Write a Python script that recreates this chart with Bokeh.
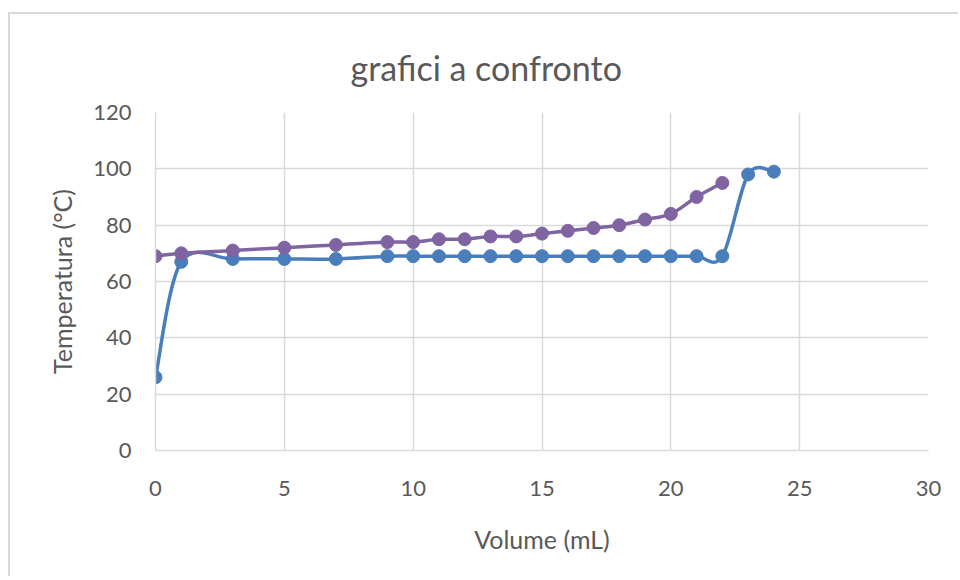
import numpy as np
from bokeh.plotting import figure
from bokeh.models import Range1d, FixedTicker
from bokeh.embed import file_html
from bokeh.resources import INLINE

# ---- data ----
blue_x = [0, 1, 3, 5, 7, 9, 10, 11, 12, 13, 14, 15, 16, 17, 18, 19, 20, 21, 22, 23, 24]
blue_y = [26, 67, 68, 68, 68, 69, 69, 69, 69, 69, 69, 69, 69, 69, 69, 69, 69, 69, 69, 98, 99]
purple_x = [0, 1, 3, 5, 7, 9, 10, 11, 12, 13, 14, 15, 16, 17, 18, 19, 20, 21, 22]
purple_y = [69, 70, 71, 72, 73, 74, 74, 75, 75, 76, 76, 77, 78, 79, 80, 82, 84, 90, 95]
x_ticks = [0, 5, 10, 15, 20, 25, 30]
y_ticks = [0, 20, 40, 60, 80, 100, 120]

BLUE = "#4a7ebb"
PURPLE = "#8064a2"
TXT = "#595959"
GRID = "#d9d9d9"
FONT = "Lato"


def smooth_segments(xs, ys):
    """Catmull-Rom style bezier control points (Excel-like smoothing)."""
    xs = np.asarray(xs, float)
    ys = np.asarray(ys, float)
    n = len(xs)
    px = np.concatenate([[xs[0]], xs, [xs[-1]]])
    py = np.concatenate([[ys[0]], ys, [ys[-1]]])
    d = dict(x0=[], y0=[], x1=[], y1=[], cx0=[], cy0=[], cx1=[], cy1=[])
    for i in range(n - 1):
        a, b, c, e = i, i + 1, i + 2, i + 3
        d["x0"].append(px[b]); d["y0"].append(py[b])
        d["x1"].append(px[c]); d["y1"].append(py[c])
        d["cx0"].append(px[b] + (px[c] - px[a]) / 6.0)
        d["cy0"].append(py[b] + (py[c] - py[a]) / 6.0)
        d["cx1"].append(px[c] - (px[e] - px[b]) / 6.0)
        d["cy1"].append(py[c] - (py[e] - py[b]) / 6.0)
    return d


p = figure(width=950, height=564, output_backend="svg", toolbar_location=None,
           x_range=Range1d(0, 30), y_range=Range1d(0, 120),
           min_border_left=145, min_border_right=32, min_border_top=98,
           min_border_bottom=128, title="grafici a confronto")
p.styles = {"border-top": "2px solid #d9d9d9", "border-left": "2px solid #d9d9d9",
            "margin-top": "12px", "margin-left": "8px"}

p.title.align = "left"
p.title.offset = 195
p.title.text_font = FONT
p.title.text_font_style = "normal"
p.title.text_font_size = "34px"
p.title.text_color = TXT
p.title.standoff = 50

p.outline_line_color = None
p.background_fill_color = "white"
p.border_fill_color = "white"

for ax in (p.xaxis[0], p.yaxis[0]):
    ax.axis_line_color = GRID
    ax.axis_line_width = 1.5
    ax.major_tick_line_color = None
    ax.minor_tick_line_color = None
    ax.major_tick_out = 0
    ax.major_label_text_font = FONT
    ax.major_label_text_font_size = "22px"
    ax.major_label_text_color = TXT
    ax.axis_label_text_font = FONT
    ax.axis_label_text_font_size = "25px"
    ax.axis_label_text_font_style = "normal"
    ax.axis_label_text_color = TXT

p.xaxis.ticker = FixedTicker(ticks=x_ticks)
p.yaxis.ticker = FixedTicker(ticks=y_ticks)
p.xaxis.axis_label = "Volume (mL)"
p.yaxis.axis_label = "Temperatura (°C)"
p.xaxis.major_label_standoff = 30
p.yaxis.major_label_standoff = 24
p.xaxis.axis_label_standoff = 25
p.yaxis.axis_label_standoff = 13

p.xgrid.ticker = FixedTicker(ticks=x_ticks)
p.ygrid.ticker = FixedTicker(ticks=y_ticks)
p.grid.grid_line_color = GRID
p.grid.grid_line_width = 1.5

for xs, ys, col in ((blue_x, blue_y, BLUE), (purple_x, purple_y, PURPLE)):
    seg = smooth_segments(xs, ys)
    p.bezier(x0="x0", y0="y0", x1="x1", y1="y1", cx0="cx0", cy0="cy0",
             cx1="cx1", cy1="cy1", source=seg, line_color=col, line_width=3.5,
             line_cap="round")
    p.scatter(xs, ys, size=13, marker="circle", fill_color=col, line_color=col)

open("out.html", "w").write(file_html(p, INLINE))
